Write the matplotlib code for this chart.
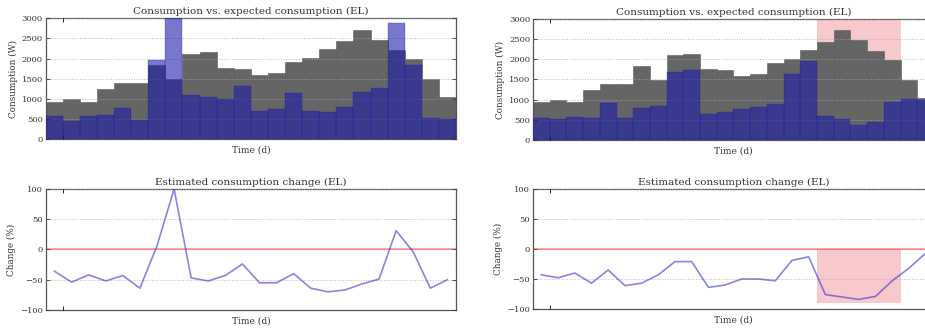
import matplotlib
matplotlib.use("Agg")
import matplotlib.pyplot as plt
import numpy as np

# -------------------------------
# Data (24 days per panel)
# -------------------------------
left_expected = [930, 990, 930, 1250, 1400, 1400, 1835, 1500, 2110, 2155, 1760, 1735,
                 1590, 1635, 1915, 2025, 2240, 2445, 2720, 2455, 2215, 2000, 1490, 1040]
left_actual = [590, 455, 570, 600, 785, 490, 1960, 3000, 1110, 1040, 1000, 1320,
               710, 750, 1155, 700, 685, 800, 1165, 1265, 2895, 1835, 520, 495]
left_change = [-36, -54, -42, -52, -43, -64, 6, 100, -47, -52, -43, -24,
               -55, -55, -40, -64, -70, -67, -57, -49, 31, -4, -64, -50]

right_expected = [930, 995, 945, 1245, 1390, 1390, 1825, 1475, 2115, 2140, 1755, 1730,
                  1575, 1625, 1905, 2020, 2230, 2420, 2715, 2470, 2195, 1990, 1485, 1045]
right_actual = [540, 515, 565, 540, 905, 540, 795, 855, 1690, 1725, 640, 690,
                780, 810, 895, 1640, 1955, 590, 515, 375, 440, 930, 1010, 995]
right_change = [-43, -48, -40, -57, -35, -61, -57, -43, -21, -21, -64, -60,
                -50, -50, -53, -19, -13, -76, -80, -84, -79, -53, -32, -7]

# anomaly window in the right panels (first / last flagged day index)
anomaly_first = 17
anomaly_last = 21
anomaly_floor = -90

bar_ticks = [0, 500, 1000, 1500, 2000, 2500, 3000]
change_ticks = [-100, -50, 0, 50, 100]

GRAY = "#656565"
BLUE = "#1c1cab"
PINK = "#f7c9cc"

plt.rcParams["font.family"] = "DejaVu Serif"
plt.rcParams["font.size"] = 6


def style_axes(ax):
    for s in ax.spines.values():
        s.set_color("#555555")
        s.set_linewidth(0.9)
    ax.tick_params(axis="y", direction="in", length=3, width=0.6, labelsize=6,
                   colors="#333333", left=True, right=True, pad=2)
    ax.set_xticks([0.5])
    ax.set_xticklabels([])
    ax.tick_params(axis="x", direction="in", length=3, width=0.6, top=True, bottom=True)
    ax.yaxis.grid(True, linestyle=":", color="#a8a8a8", linewidth=0.7, alpha=0.8)
    ax.set_axisbelow(False)


def plot_bars(ax, expected, actual):
    x = np.arange(len(expected))
    ax.bar(x, expected, width=1.0, color=GRAY, edgecolor="#5a5a5a", linewidth=0.4, zorder=2)
    ax.bar(x, actual, width=1.0, color=BLUE, alpha=0.6, edgecolor=BLUE, linewidth=0.3, zorder=3)
    ax.set_xlim(-0.5, len(expected) - 0.5)
    ax.set_ylim(0, 3000)
    ax.set_yticks(bar_ticks)
    ax.set_title("Consumption vs. expected consumption (EL)", fontsize=7.5, pad=3, color="#333333")
    ax.set_xlabel("Time (d)", fontsize=6.5, labelpad=1, color="#333333")
    ax.set_ylabel("Consumption (W)", fontsize=6.3, labelpad=3, color="#333333")
    style_axes(ax)


def plot_change(ax, change):
    x = np.arange(len(change))
    ax.axhline(0, color="red", alpha=0.4, linewidth=1.3, zorder=3)
    ax.plot(x, change, color="#3535d5", alpha=0.6, linewidth=1.2, zorder=4)
    ax.set_xlim(-0.5, len(change) - 0.5)
    ax.set_ylim(-100, 100)
    ax.set_yticks(change_ticks)
    ax.set_title("Estimated consumption change (EL)", fontsize=7.5, pad=3, color="#333333")
    ax.set_xlabel("Time (d)", fontsize=6.5, labelpad=1, color="#333333")
    ax.set_ylabel("Change (%)", fontsize=6.3, labelpad=3, color="#333333")
    style_axes(ax)


fig = plt.figure(figsize=(9.25, 3.29), dpi=100)

ax_tl = fig.add_axes([0.0494, 0.5766, 0.4436, 0.3678])
ax_bl = fig.add_axes([0.0497, 0.0578, 0.4432, 0.3678])
# right column is wider than the canvas, so its right edge is cut off
ax_tr = fig.add_axes([0.5762, 0.5745, 0.4335, 0.3678])
ax_br = fig.add_axes([0.5762, 0.0608, 0.4335, 0.3647])

plot_bars(ax_tl, left_expected, left_actual)
plot_change(ax_bl, left_change)

plot_bars(ax_tr, right_expected, right_actual)
ax_tr.axvspan(anomaly_first - 0.5, anomaly_last + 0.5, color=PINK, zorder=1, linewidth=0)
plot_change(ax_br, right_change)
ax_br.fill_between([anomaly_first - 0.5, anomaly_last + 0.5], anomaly_floor, 0,
                   color=PINK, zorder=1, linewidth=0)

fig.savefig("out.png", dpi=100)
